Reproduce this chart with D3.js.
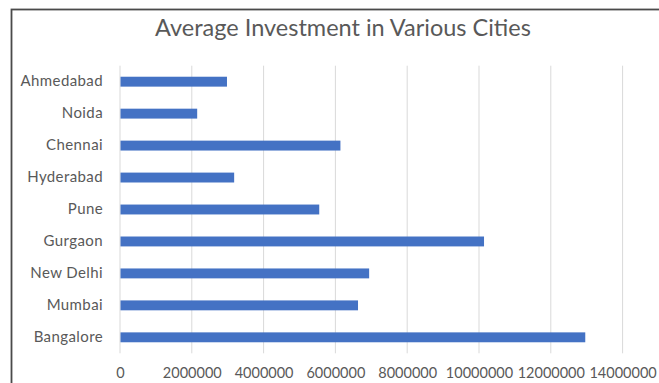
<!DOCTYPE html>
<html>
<head>
<meta charset="utf-8">
<script src="https://cdn.jsdelivr.net/npm/d3@7"></script>
<style>
  html, body { margin: 0; padding: 0; background: #fff; }
  svg { display: block; }
  text { font-family: Lato, "Open Sans", sans-serif; fill: #595959; }
</style>
</head>
<body>
<svg id="chart" width="659" height="383"></svg>
<script>
// Average investment per city (top to bottom as drawn)
const cities = ["Ahmedabad", "Noida", "Chennai", "Hyderabad", "Pune", "Gurgaon", "New Delhi", "Mumbai", "Bangalore"];
const investment = [2980000, 2150000, 6140000, 3180000, 5550000, 10140000, 6940000, 6630000, 12960000];
const xTicks = [0, 2000000, 4000000, 6000000, 8000000, 10000000, 12000000, 14000000];
const title = "Average Investment in Various Cities";

const svg = d3.select("#chart");
const W = 659, H = 383;
const plot = { left: 120, right: 622.6, top: 65.7, bottom: 353.3 };
const labelFont = "Lato, 'Open Sans', sans-serif";

// chart frame
svg.append("rect")
  .attr("x", 11.5).attr("y", 9.5)
  .attr("width", W + 20).attr("height", H + 20)
  .attr("fill", "none").attr("stroke", "#4a4a4a").attr("stroke-width", 1.8);

svg.append("text")
  .attr("x", 343).attr("y", 36)
  .attr("text-anchor", "middle")
  .attr("font-size", 23.5)
  .text(title);

const x = d3.scaleLinear().domain([0, 14000000]).range([plot.left, plot.right]);
const y = d3.scaleBand().domain(cities).range([plot.top, plot.bottom]).paddingInner(0.69).paddingOuter(0.345);

// vertical gridlines
svg.append("g").selectAll("line").data(xTicks).join("line")
  .attr("x1", d => x(d)).attr("x2", d => x(d))
  .attr("y1", plot.top).attr("y2", plot.bottom)
  .attr("stroke", "#d9d9d9").attr("stroke-width", 1);

// bars
svg.append("g").selectAll("rect").data(cities).join("rect")
  .attr("x", x(0) + 0.5)
  .attr("y", d => y(d))
  .attr("width", (d, i) => x(investment[i]) - x(0) - 0.5)
  .attr("height", y.bandwidth())
  .attr("fill", "#4472c4");

// x axis labels
const xAxis = d3.axisBottom(x).tickValues(xTicks).tickSize(0).tickPadding(0).tickFormat(d3.format("d"));
const gx = svg.append("g").attr("transform", `translate(0,${plot.bottom + 14})`).call(xAxis);
gx.select(".domain").remove();
gx.selectAll("text").attr("font-size", 14.5).attr("fill", "#595959").attr("font-family", labelFont);

// category labels
const yAxis = d3.axisLeft(y).tickSize(0).tickPadding(17);
const gy = svg.append("g").attr("transform", `translate(${plot.left},0)`).call(yAxis);
gy.select(".domain").remove();
gy.selectAll("text").attr("font-size", 15).attr("fill", "#595959").attr("font-family", labelFont)
  .attr("letter-spacing", 0.4);
</script>
</body>
</html>
